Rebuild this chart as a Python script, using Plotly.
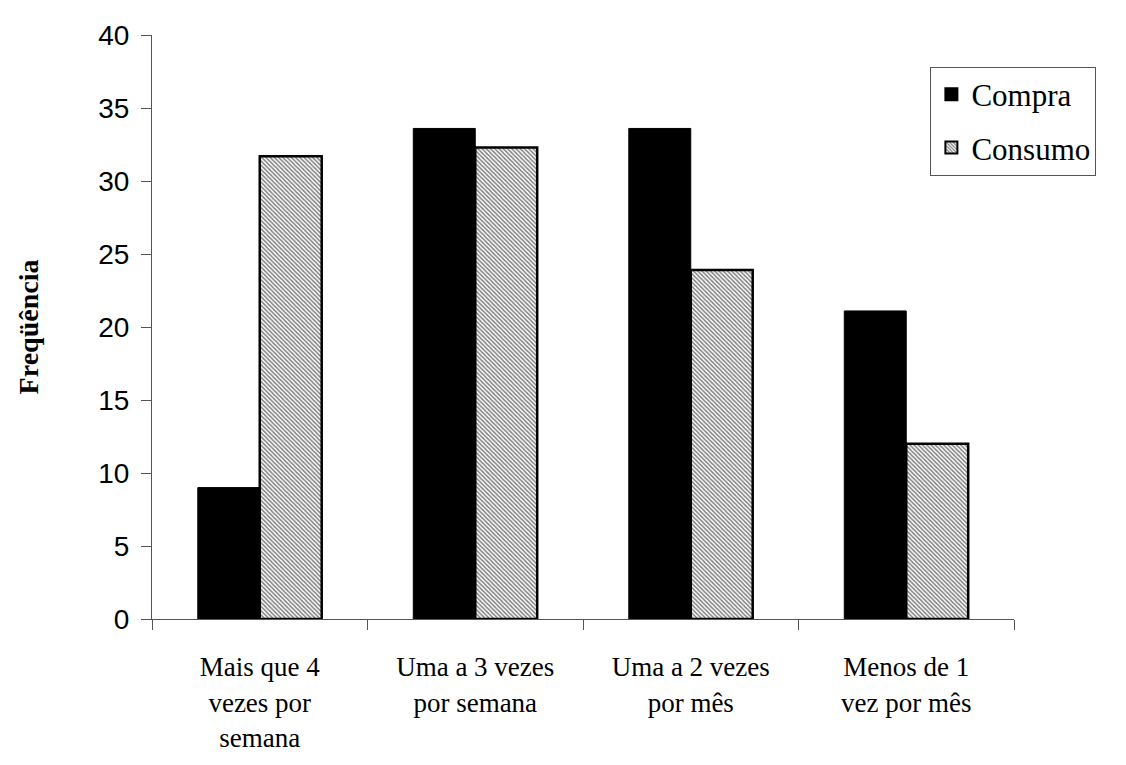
import plotly.graph_objects as go

categories = ["Mais que 4<br>vezes por<br>semana", "Uma a 3 vezes<br>por semana",
              "Uma a 2 vezes<br>por mês", "Menos de 1<br>vez por mês"]
compra = [9.0, 33.6, 33.6, 21.1]
consumo = [31.7, 32.3, 23.9, 12.0]
y_ticks = [0, 5, 10, 15, 20, 25, 30, 35, 40]

fig = go.Figure()
fig.add_trace(go.Bar(
    x=categories, y=compra, name="Compra", legendgroup="compra",
    marker=dict(color="black", line=dict(color="black", width=1)),
))
fig.add_trace(go.Bar(
    x=categories, y=consumo, name="Consumo", legendgroup="consumo",
    marker=dict(color="white", line=dict(color="black", width=2.5),
                pattern=dict(shape="\\", fgcolor="black", bgcolor="white",
                             size=3, solidity=0.5)),
))

fig.update_layout(
    width=1118, height=757,
    margin=dict(l=144, r=112, t=22, b=145),
    paper_bgcolor="white", plot_bgcolor="white",
    barmode="group", bargap=0.425, bargroupgap=0,
    showlegend=True,
    legend=dict(x=0.903, y=0.946, xanchor="left", yanchor="top",
                bordercolor="#555555", borderwidth=1,
                font=dict(family="Liberation Serif", size=31, color="black"),
                itemsizing="constant", tracegroupgap=10,
                itemwidth=30),
    xaxis=dict(
        showline=True, linecolor="#555555", linewidth=1,
        ticks="outside", tickson="boundaries", ticklen=10, tickcolor="#555555",
        tickfont=dict(family="Liberation Serif", size=27, color="black"),
        ticklabelstandoff=24,
        showgrid=False,
    ),
    yaxis=dict(
        range=[0, 40], tickvals=y_ticks,
        showline=True, linecolor="#555555", linewidth=1,
        ticks="outside", ticklen=10, tickcolor="#555555",
        tickfont=dict(family="Liberation Sans", size=28, color="black"),
        ticklabelstandoff=6,
        showgrid=False, zeroline=False,
        title=dict(text="<b>Freqüência</b>",
                   font=dict(family="Liberation Serif", size=28, color="black"),
                   standoff=51),
    ),
)

fig.write_html("out.html")
